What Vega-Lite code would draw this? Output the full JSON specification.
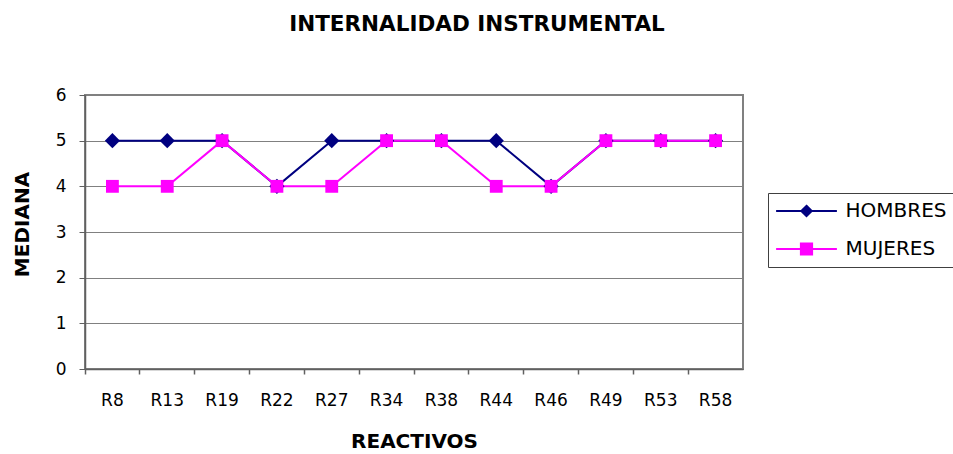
{
  "$schema": "https://vega.github.io/schema/vega-lite/v6.json",
  "width": 658,
  "height": 274,
  "autosize": {"type": "none"},
  "padding": {"left": 85, "top": 95, "right": 210, "bottom": 85},
  "background": "white",
  "title": {
    "text": "INTERNALIDAD INSTRUMENTAL",
    "font": "DejaVu Sans",
    "fontSize": 21.5,
    "fontWeight": "bold",
    "color": "black",
    "anchor": "middle",
    "dx": 63,
    "offset": 51
  },
  "config": {
    "view": {"stroke": "#808080", "strokeWidth": 2},
    "legend": {
      "orient": "none",
      "legendX": 683,
      "legendY": 98,
      "padding": 8,
      "strokeColor": "#404040",
      "fillColor": "white",
      "labelFont": "DejaVu Sans",
      "labelFontSize": 20,
      "labelColor": "black",
      "labelLimit": 300,
      "symbolSize": 64,
      "symbolStrokeWidth": 2,
      "symbolOffset": 20.5,
      "labelOffset": 29,
      "rowPadding": 18
    }
  },
  "data": {
    "values": [
      {"reactivo": "R8", "sexo": "HOMBRES", "mediana": 5},
      {"reactivo": "R13", "sexo": "HOMBRES", "mediana": 5},
      {"reactivo": "R19", "sexo": "HOMBRES", "mediana": 5},
      {"reactivo": "R22", "sexo": "HOMBRES", "mediana": 4},
      {"reactivo": "R27", "sexo": "HOMBRES", "mediana": 5},
      {"reactivo": "R34", "sexo": "HOMBRES", "mediana": 5},
      {"reactivo": "R38", "sexo": "HOMBRES", "mediana": 5},
      {"reactivo": "R44", "sexo": "HOMBRES", "mediana": 5},
      {"reactivo": "R46", "sexo": "HOMBRES", "mediana": 4},
      {"reactivo": "R49", "sexo": "HOMBRES", "mediana": 5},
      {"reactivo": "R53", "sexo": "HOMBRES", "mediana": 5},
      {"reactivo": "R58", "sexo": "HOMBRES", "mediana": 5},
      {"reactivo": "R8", "sexo": "MUJERES", "mediana": 4},
      {"reactivo": "R13", "sexo": "MUJERES", "mediana": 4},
      {"reactivo": "R19", "sexo": "MUJERES", "mediana": 5},
      {"reactivo": "R22", "sexo": "MUJERES", "mediana": 4},
      {"reactivo": "R27", "sexo": "MUJERES", "mediana": 4},
      {"reactivo": "R34", "sexo": "MUJERES", "mediana": 5},
      {"reactivo": "R38", "sexo": "MUJERES", "mediana": 5},
      {"reactivo": "R44", "sexo": "MUJERES", "mediana": 4},
      {"reactivo": "R46", "sexo": "MUJERES", "mediana": 4},
      {"reactivo": "R49", "sexo": "MUJERES", "mediana": 5},
      {"reactivo": "R53", "sexo": "MUJERES", "mediana": 5},
      {"reactivo": "R58", "sexo": "MUJERES", "mediana": 5}
    ]
  },
  "encoding": {
    "y": {
      "field": "mediana",
      "type": "quantitative",
      "scale": {"domain": [0, 6], "nice": false},
      "axis": {
        "orient": "left",
        "values": [0, 1, 2, 3, 4, 5, 6],
        "format": "d",
        "title": "MEDIANA",
        "titleFont": "DejaVu Sans",
        "titleFontSize": 20,
        "titleFontWeight": "bold",
        "titleColor": "black",
        "titleX": -63,
        "titleY": 129,
        "titleAngle": -90,
        "titleAlign": "center",
        "titleBaseline": "middle",
        "labelFont": "DejaVu Sans",
        "labelFontSize": 17,
        "labelColor": "black",
        "labelPadding": 13,
        "tickSize": 6,
        "tickColor": "#606060",
        "domainColor": "#606060",
        "domainWidth": 1.5,
        "grid": true,
        "gridColor": "#808080",
        "gridWidth": 1
      }
    },
    "color": {
      "field": "sexo",
      "type": "nominal",
      "sort": ["HOMBRES", "MUJERES"],
      "scale": {"domain": ["HOMBRES", "MUJERES"], "range": ["#000080", "#FF00FF"]},
      "legend": {
        "title": null,
        "encoding": {
          "symbols": {
            "shape": {"value": {"expr": "datum.value === 'HOMBRES' ? 'M-7.6,0H7.6M0,-1.3L1.3,0L0,1.3L-1.3,0Z' : 'M-7.6,0H7.6M-1.4,-1.4H1.4V1.4H-1.4Z'"}},
            "size": {"value": 64},
            "fill": {"value": {"expr": "datum.value === 'HOMBRES' ? '#000080' : '#FF00FF'"}},
            "stroke": {"value": {"expr": "datum.value === 'HOMBRES' ? '#000080' : '#FF00FF'"}},
            "strokeWidth": {"value": 2}
          }
        }
      }
    }
  },
  "layer": [
    {
      "mark": {"type": "line", "strokeWidth": 2},
      "encoding": {
        "x": {
          "field": "reactivo",
          "type": "nominal",
          "sort": null,
          "bandPosition": 0.5,
          "scale": {"type": "band", "paddingInner": 0, "paddingOuter": 0},
          "axis": {
            "orient": "bottom",
            "title": "REACTIVOS",
            "titleFont": "DejaVu Sans",
            "titleFontSize": 20,
            "titleFontWeight": "bold",
            "titleColor": "black",
            "titleY": 78,
            "titleBaseline": "alphabetic",
            "labelFont": "DejaVu Sans",
            "labelFontSize": 17,
            "labelColor": "black",
            "labelAngle": 0,
            "labelPadding": 23,
            "ticks": false,
            "grid": false,
            "domain": true,
            "domainColor": "#606060",
            "domainWidth": 1.5
          }
        }
      }
    },
    {
      "mark": {"type": "point", "filled": true, "opacity": 1},
      "encoding": {
        "x": {
          "field": "reactivo",
          "type": "nominal",
          "sort": null,
          "bandPosition": 0.5,
          "axis": {
            "orient": "bottom",
            "title": null,
            "labels": false,
            "domain": false,
            "grid": false,
            "ticks": true,
            "tickSize": 5,
            "tickColor": "#606060",
            "tickWidth": 1.5,
            "bandPosition": 0
          }
        },
        "shape": {
          "condition": {"test": "datum.sexo === 'HOMBRES'", "value": "diamond"},
          "value": "square"
        },
        "size": {
          "condition": {"test": "datum.sexo === 'HOMBRES'", "value": 230},
          "value": 165
        }
      }
    }
  ],
  "resolve": {"axis": {"x": "independent"}}
}
